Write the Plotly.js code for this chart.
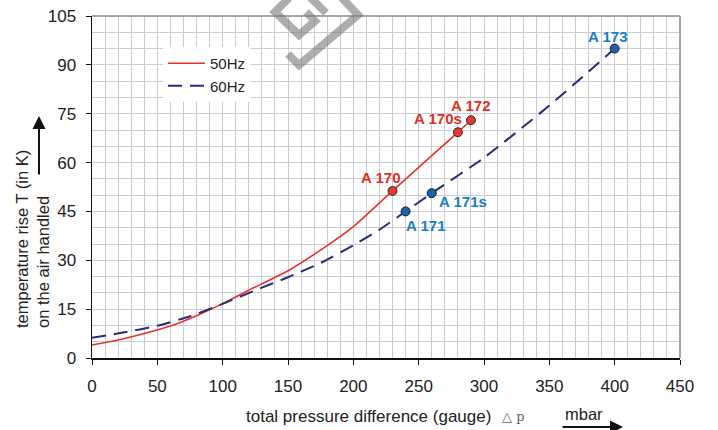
<!DOCTYPE html>
<html>
<head>
<meta charset="utf-8">
<script src="https://cdn.plot.ly/plotly-3.0.1.min.js"></script>
<style>html,body{margin:0;padding:0;background:#fff;}#chart{width:718px;height:430px;}</style>
</head>
<body>
<div id="chart"></div>
<script>
// ---- data ----
const hz50_x = [0, 20, 40, 60, 80, 100, 120, 150, 180, 200, 230, 280, 290];
const hz50_y = [4.0, 5.5, 7.5, 9.8, 13.0, 16.7, 20.8, 26.8, 34.5, 40.3, 51.3, 69.3, 73.0];
const hz60_x = [0, 25, 50, 75, 100, 125, 150, 175, 200, 220, 240, 260, 300, 350, 400];
const hz60_y = [6.2, 7.9, 9.9, 12.8, 16.6, 20.8, 24.8, 29.2, 34.6, 39.4, 45.0, 50.6, 61.5, 77.5, 95.0];
const pts50_name = ["A 170", "A 170s", "A 172"];
const pts50_x = [230, 280, 290];
const pts50_y = [51.3, 69.3, 73.0];
const pts60_name = ["A 171", "A 171s", "A 173"];
const pts60_x = [240, 260, 400];
const pts60_y = [45.0, 50.6, 95.0];
const xTicks = [0, 50, 100, 150, 200, 250, 300, 350, 400, 450];
const yTicks = [0, 15, 30, 45, 60, 75, 90, 105];

const RED = '#e6322a', NAVY = '#2c2a7c', LBLRED = '#e03127', LBLBLUE = '#1a7dc4';
const FONT = 'Liberation Sans, Arial, Helvetica, sans-serif';

const traces = [
  {x: hz50_x, y: hz50_y, mode: 'lines', name: '50Hz', line: {color: RED, width: 1.6, shape: 'spline', smoothing: 0.6}},
  {x: hz60_x, y: hz60_y, mode: 'lines', name: '60Hz', line: {color: NAVY, width: 2, dash: '14px,8px', shape: 'spline', smoothing: 0.6}},
  {x: pts50_x, y: pts50_y, mode: 'markers', showlegend: false, hoverinfo: 'skip',
   marker: {size: 9, color: '#e23a30', line: {color: '#2a2a2a', width: 1}}},
  {x: pts60_x, y: pts60_y, mode: 'markers', showlegend: false, hoverinfo: 'skip',
   marker: {size: 9, color: '#1d62a8', line: {color: '#1a1a1a', width: 1}}}
];

// label placement offsets (pixels)
const lbl50 = [{xs: -12, ys: 3, xa: 'center', ya: 'bottom'}, {xs: -20, ys: 3, xa: 'center', ya: 'bottom'}, {xs: 0, ys: 4, xa: 'center', ya: 'bottom'}];
const lbl60 = [{xs: -2, ys: -4, xa: 'left', ya: 'top'}, {xs: 5, ys: 2, xa: 'left', ya: 'top'}, {xs: -7, ys: 2, xa: 'center', ya: 'bottom'}];

const annotations = [];
pts50_name.forEach((t, i) => annotations.push({x: pts50_x[i], y: pts50_y[i], xref: 'x', yref: 'y', text: '<b>' + t + '</b>', showarrow: false,
  xanchor: lbl50[i].xa, yanchor: lbl50[i].ya, xshift: lbl50[i].xs, yshift: lbl50[i].ys, font: {family: FONT, size: 15, color: LBLRED}}));
pts60_name.forEach((t, i) => annotations.push({x: pts60_x[i], y: pts60_y[i], xref: 'x', yref: 'y', text: '<b>' + t + '</b>', showarrow: false,
  xanchor: lbl60[i].xa, yanchor: lbl60[i].ya, xshift: lbl60[i].xs, yshift: lbl60[i].ys, font: {family: FONT, size: 15, color: LBLBLUE}}));

// pixel helpers for decorations
const L = 92, R = 680, T = 16, B = 358;
const px = v => (v - L) / (R - L);
const py = v => (B - v) / (B - T);

// y-axis title (two lines) + up arrow
annotations.push({xref: 'paper', yref: 'paper', x: px(32), y: py(239), text: 'temperature rise T (in K)<br>on the air handled',
  showarrow: false, textangle: -90, align: 'left', xanchor: 'center', yanchor: 'middle', font: {family: FONT, size: 16.5, color: '#222'}});
annotations.push({xref: 'paper', yref: 'paper', x: px(39), y: py(116), ax: 0, ay: 60, text: '', showarrow: true,
  arrowhead: 2, arrowsize: 1.3, arrowwidth: 2, arrowcolor: '#111'});
// x-axis title
annotations.push({xref: 'paper', yref: 'paper', x: px(244), y: py(416), text: 'total pressure difference (gauge)',
  showarrow: false, xanchor: 'left', yanchor: 'middle', font: {family: FONT, size: 17, color: '#222'}});
annotations.push({xref: 'paper', yref: 'paper', x: px(500), y: py(416), text: '△ p',
  showarrow: false, xanchor: 'left', yanchor: 'middle', font: {family: 'DejaVu Serif, Liberation Serif, serif', size: 13, color: '#666'}});
annotations.push({xref: 'paper', yref: 'paper', x: px(563), y: py(414), text: 'mbar',
  showarrow: false, xanchor: 'left', yanchor: 'middle', font: {family: FONT, size: 16.5, color: '#222'}});
annotations.push({xref: 'paper', yref: 'paper', x: px(623), y: py(427), ax: -62, ay: 0, text: '', showarrow: true,
  arrowhead: 2, arrowsize: 1.3, arrowwidth: 2, arrowcolor: '#111'});

const WM = 'rgba(125,125,125,0.62)';
const shapes = [
  // top and right frame
  {type: 'line', xref: 'paper', yref: 'paper', x0: 0, x1: 1, y0: 1, y1: 1, line: {color: '#a3a6ad', width: 2}},
  {type: 'line', xref: 'paper', yref: 'paper', x0: 1, x1: 1, y0: 0, y1: 1, line: {color: '#a3a6ad', width: 2}},
  // watermark
  {type: 'path', xref: 'paper', yref: 'paper', layer: 'above',
   path: `M ${px(289)} ${py(-2)} L ${px(275)} ${py(12)} L ${px(299)} ${py(35)} L ${px(315)} ${py(21)} L ${px(306)} ${py(12)}`,
   line: {color: WM, width: 8}},
  {type: 'path', xref: 'paper', yref: 'paper', layer: 'above',
   path: `M ${px(310)} ${py(-3)} L ${px(326)} ${py(13)}`,
   line: {color: WM, width: 8}},
  {type: 'path', xref: 'paper', yref: 'paper', layer: 'above',
   path: `M ${px(342)} ${py(-2)} L ${px(358)} ${py(15)} L ${px(299)} ${py(65)} L ${px(288)} ${py(54)}`,
   line: {color: WM, width: 8}}
];

const gridc = '#c9ccd3';
const layout = {
  width: 718, height: 430,
  margin: {l: L, r: 718 - R, t: T, b: 430 - B},
  paper_bgcolor: '#fff', plot_bgcolor: '#fff',
  font: {family: FONT, size: 17, color: '#222'},
  showlegend: true,
  legend: {x: px(163), y: py(47), xanchor: 'left', yanchor: 'top', bgcolor: '#fff', borderwidth: 0, itemwidth: 37,
    font: {family: FONT, size: 15, color: '#222'}, tracegroupgap: 4},
  xaxis: {range: [0, 450], tickvals: xTicks, ticktext: xTicks.map(String), ticks: 'outside', ticklen: 5, tickcolor: '#111',
    showline: true, linecolor: '#111', linewidth: 1.5, showgrid: true, gridcolor: gridc, gridwidth: 1, zeroline: false,
    minor: {dtick: 10, showgrid: true, gridcolor: gridc, gridwidth: 1}, ticklabelstandoff: 7,
    tickfont: {family: FONT, size: 17, color: '#222'}, fixedrange: true},
  yaxis: {range: [0, 105], tickvals: yTicks, ticktext: yTicks.map(String), ticks: 'outside', ticklen: 5, tickcolor: '#111',
    showline: true, linecolor: '#111', linewidth: 1.5, showgrid: true, gridcolor: gridc, gridwidth: 1, zeroline: false,
    minor: {dtick: 5, showgrid: true, gridcolor: gridc, gridwidth: 1}, ticklabelstandoff: 6,
    tickfont: {family: FONT, size: 17, color: '#222'}, fixedrange: true},
  annotations: annotations,
  shapes: shapes
};

Plotly.newPlot('chart', traces, layout, {displayModeBar: false, staticPlot: true});
</script>
</body>
</html>
